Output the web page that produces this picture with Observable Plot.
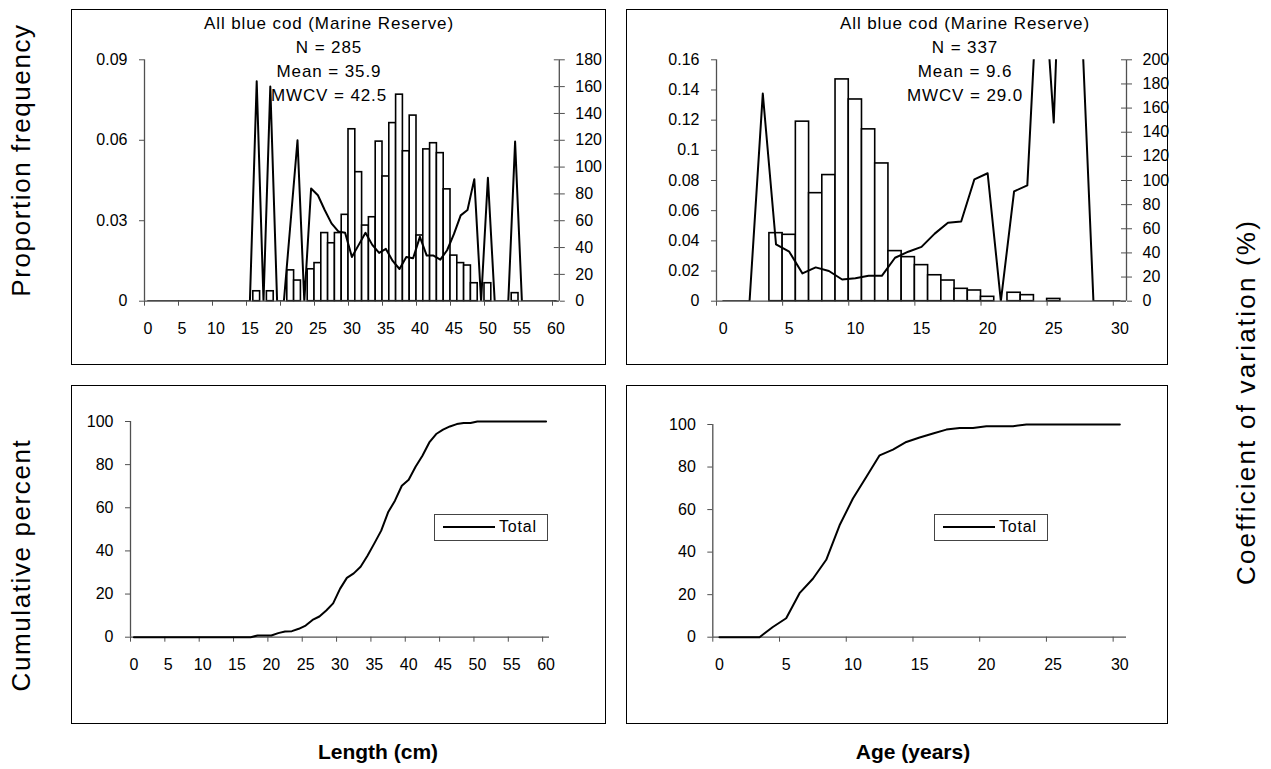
<!DOCTYPE html>
<html><head><meta charset="utf-8">
<script src="https://cdn.jsdelivr.net/npm/d3@7"></script>
<script src="https://cdn.jsdelivr.net/npm/@observablehq/plot@0.6"></script>
<style>
body{margin:0;background:#fff;}
#page{position:relative;width:1271px;height:769px;overflow:hidden;font-family:"Liberation Sans",Arial,sans-serif;color:#000;}
.box{position:absolute;border:1.5px solid #000;box-sizing:border-box;}
.t{position:absolute;white-space:nowrap;transform:translate(-50%,-50%);}
.v{position:absolute;white-space:nowrap;transform:translate(-50%,-50%) rotate(-90deg);}
.legend{position:absolute;border:1px solid #444;box-sizing:border-box;background:#fff;font-size:16px;}
.legend .ln{position:absolute;left:8px;top:11px;width:52px;border-top:2px solid #000;}
.legend .tx{position:absolute;left:64px;top:3px;letter-spacing:0.8px;}
</style></head><body><div id="page"></div>
<script>
// ---------- data ----------
const lengthCats = [0,1,2,3,4,5,6,7,8,9,10,11,12,13,14,15,16,17,18,19,20,21,22,23,24,25,26,27,28,29,30,31,32,33,34,35,36,37,38,39,40,41,42,43,44,45,46,47,48,49,50,51,52,53,54,55,56,57,58,59,60];
const lengthProp = [0,0,0,0,0,0,0,0,0,0,0,0,0,0,0,0,0.0037,0,0.0037,0,0,0.0115,0.0077,0,0.0119,0.0142,0.0254,0.0216,0.0254,0.0322,0.0641,0.0481,0.0282,0.0313,0.0595,0.0465,0.0664,0.0770,0.0559,0.0692,0.0245,0.0566,0.0589,0.0552,0.0417,0.0170,0.0142,0.0133,0.0067,0,0.0067,0,0,0,0.0030,0,0,0,0,0,0];
const lengthCV = [0,0,0,0,0,0,0,0,0,0,0,0,0,0,0,0,164,0,160,0,0,60,120,0,84,79,68,58,52,51,33,42,51,42,36,39,30,24,33,32,48,34,34,31,38,50,64,68,91,0,92,0,0,0,119,0,0,0,0,0,0];
const lengthCum = [0,0,0,0,0,0,0,0,0,0,0,0,0,0,0,0,0,0,0.8,0.8,0.8,1.9,2.6,2.8,3.9,5.4,8.0,9.6,12.4,15.7,22.4,27.5,29.6,32.7,37.8,43.5,49.4,57.9,63.3,70.2,73.0,79.0,84.1,90.3,94.2,96.2,97.7,98.8,99.3,99.3,100,100,100,100,100,100,100,100,100,100,100];

const ageCats = [0,1,2,3,4,5,6,7,8,9,10,11,12,13,14,15,16,17,18,19,20,21,22,23,24,25,26,27,28,29,30];
const ageProp = [0,0,0,0,0.0451,0.0440,0.1190,0.0716,0.0836,0.1470,0.1337,0.1139,0.0913,0.0332,0.0292,0.0239,0.0172,0.0137,0.0082,0.0071,0.0029,0,0.0056,0.0040,0,0.0015,0,0,0,0,0];
const ageCV = [0,0,0,172,47,41,23,28,25,18,19,21,21,36,41,45,56,65,66,101,106,0,91,96,310,148,450,260,0,0,0];
const ageCum = [0,0,0,0,4.8,8.9,20.7,27.5,36.4,52.6,65.2,75.3,85.5,88.2,91.8,93.9,95.8,97.6,98.4,98.4,99.2,99.2,99.2,100,100,100,100,100,100,100,100];

const lengthTicks = [0,5,10,15,20,25,30,35,40,45,50,55,60];
const ageTicks = [0,5,10,15,20,25,30];
const propTicksLength = [0,0.03,0.06,0.09];
const cvTicksLength = [0,20,40,60,80,100,120,140,160,180];
const propTicksAge = [0,0.02,0.04,0.06,0.08,0.1,0.12,0.14,0.16];
const cvTicksAge = [0,20,40,60,80,100,120,140,160,180,200];
const cumTicks = [0,20,40,60,80,100];

const statsLength = ["All blue cod (Marine Reserve)", "N = 285", "Mean = 35.9", "MWCV = 42.5"];
const statsAge = ["All blue cod (Marine Reserve)", "N = 337", "Mean = 9.6", "MWCV = 29.0"];

// ---------- helpers ----------
const page = document.getElementById("page");
const AX = "#505050";
const FONT = "'Liberation Sans', Arial, sans-serif";

function addBox(b){
  const d = document.createElement("div");
  d.className = "box";
  Object.assign(d.style,{left:b.l+"px",top:b.t+"px",width:(b.r-b.l)+"px",height:(b.b-b.t)+"px"});
  page.appendChild(d);
}
function addText(txt, x, y, cls, css){
  const d = document.createElement("div");
  d.className = cls; d.textContent = txt;
  Object.assign(d.style,{left:x+"px",top:y+"px"}, css||{});
  page.appendChild(d);
}
function addLegend(x,y){
  const d = document.createElement("div");
  d.className = "legend";
  Object.assign(d.style,{left:x+"px",top:y+"px",width:"114px",height:"27px"});
  d.innerHTML = '<div class="ln"></div><div class="tx">Total</div>';
  page.appendChild(d);
}
function panel(box, area, xDomain, yDomain, marks){
  addBox(box);
  const svg = Plot.plot({
    width: box.r-box.l, height: box.b-box.t,
    marginLeft: area.l-box.l, marginRight: box.r-area.r,
    marginTop: area.t-box.t, marginBottom: box.b-area.b,
    x:{domain:xDomain}, y:{domain:yDomain},
    style:{fontFamily:FONT,fontSize:"16px",color:"#000",background:"transparent",overflow:"visible"},
    marks
  });
  svg.style.position="absolute";
  svg.style.left=box.l+"px";
  svg.style.top=box.t+"px";
  page.appendChild(svg);
}
function xAxisMarks(ticks){
  return [
    Plot.ruleY([0],{stroke:AX,strokeWidth:1.3}),
    Plot.axisX({ticks:ticks,tickSize:5,tickFormat:()=>"",stroke:AX,label:null}),
    Plot.axisX({ticks:ticks.map(t=>t+0.5),tickSize:0,tickPadding:21,tickFormat:d=>String(d-0.5),label:null,fill:"#000"})
  ];
}
function leftAxisMarks(ticks, x0, fmt){
  return [
    Plot.ruleX([x0],{stroke:AX,strokeWidth:1.3}),
    Plot.axisY({ticks:ticks,anchor:"left",tickSize:5,tickPadding:12,stroke:AX,tickFormat:fmt,label:null,fill:"#000"})
  ];
}
function rightAxisMarks(cvTicks, factor, xEnd){
  const pos = cvTicks.map(v=>v*factor);
  return [
    Plot.ruleX([xEnd],{stroke:AX,strokeWidth:1.3}),
    Plot.axisY({ticks:pos,anchor:"right",tickSize:5,tickPadding:11,stroke:AX,tickFormat:d=>String(Math.round(d/factor)),label:null,fill:"#000"}),
    Plot.ruleY(pos,{x1:xEnd,x2:xEnd,insetLeft:-5,stroke:AX})
  ];
}

// ---------- tables ----------
const lenTable = lengthCats.map((c,i)=>({x1:c,x2:c+1,xm:c+0.5,p:lengthProp[i],cv:lengthCV[i],cum:lengthCum[i]}));
const ageTable = ageCats.map((c,i)=>({x1:c,x2:c+1,xm:c+0.5,p:ageProp[i],cv:ageCV[i],cum:ageCum[i]}));
const fLen = 0.09/180, fAge = 0.16/200;
const statCss = {fontSize:"17px",letterSpacing:"0.9px"};

// ---------- top-left ----------
{
  const box={l:71,t:9,r:606,b:365}, area={l:144,r:558.8,t:59.3,b:300.7};
  panel(box, area, [0,61], [0,0.09], [
    Plot.rectY(lenTable.filter(d=>d.p>0),{x1:"x1",x2:"x2",y:"p",fill:"white",stroke:"#000",strokeWidth:1.6}),
    ...xAxisMarks(lengthTicks),
    ...leftAxisMarks(propTicksLength, 0, d=>String(d)),
    ...rightAxisMarks(cvTicksLength, fLen, 61),
    Plot.line(lenTable,{x:"xm",y:d=>d.cv*fLen,stroke:"#000",strokeWidth:2,clip:true})
  ]);
  statsLength.forEach((s,i)=>addText(s, 329, 24+i*24, "t", statCss));
}
// ---------- top-right ----------
{
  const box={l:626,t:9,r:1168,b:365}, area={l:716,r:1126,t:59.3,b:300.7};
  panel(box, area, [0,31], [0,0.16], [
    Plot.rectY(ageTable.filter(d=>d.p>0),{x1:"x1",x2:"x2",y:"p",fill:"white",stroke:"#000",strokeWidth:1.6}),
    ...xAxisMarks(ageTicks),
    ...leftAxisMarks(propTicksAge, 0, d=>String(d)),
    ...rightAxisMarks(cvTicksAge, fAge, 31),
    Plot.line(ageTable,{x:"xm",y:d=>d.cv*fAge,stroke:"#000",strokeWidth:2,clip:true})
  ]);
  statsAge.forEach((s,i)=>addText(s, 965, 24+i*24, "t", statCss));
}
// ---------- bottom-left ----------
{
  const box={l:71,t:385,r:606,b:724}, area={l:130,r:549,t:421,b:636.7};
  panel(box, area, [0,61], [0,100], [
    ...xAxisMarks(lengthTicks),
    ...leftAxisMarks(cumTicks, 0, d=>String(d)),
    Plot.line(lenTable,{x:"xm",y:"cum",stroke:"#000",strokeWidth:2})
  ]);
  addLegend(434,514);
}
// ---------- bottom-right ----------
{
  const box={l:626,t:385,r:1168,b:724}, area={l:712.3,r:1126,t:424,b:636.7};
  panel(box, area, [0,31], [0,100], [
    ...xAxisMarks(ageTicks),
    ...leftAxisMarks(cumTicks, 0, d=>String(d)),
    Plot.line(ageTable,{x:"xm",y:"cum",stroke:"#000",strokeWidth:2})
  ]);
  addLegend(934,514);
}
// ---------- axis titles ----------
const vCss = {fontSize:"26px",letterSpacing:"1.6px"};
addText("Proportion frequency", 21, 160, "v", vCss);
addText("Cumulative percent", 21, 565, "v", vCss);
addText("Coefficient of variation (%)", 1246, 402, "v", {fontSize:"26px",letterSpacing:"2.2px"});
addText("Length (cm)", 378, 752, "t", {fontSize:"21px",fontWeight:"bold"});
addText("Age (years)", 913, 752, "t", {fontSize:"21px",fontWeight:"bold"});
</script>
</body></html>
